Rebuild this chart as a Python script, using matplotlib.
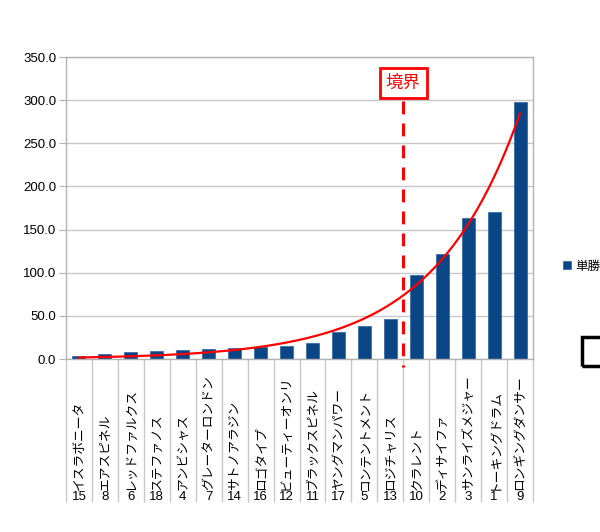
import numpy as np
import matplotlib.pyplot as plt
from matplotlib.patches import Rectangle

# horse names (sorted by win odds) and their numbers
names = ['イスラボニータ', 'エアスピネル', 'レッドファルクス', 'ステファノス', 'アンビシャス',
         'グレーターロンドン', 'サトノアラジン', 'ロゴタイプ', 'ビューティーオンリ', 'ブラックスピネル',
         'ヤングマンパワー', 'コンテントメント', 'ロジチャリス', 'クラレント', 'ディサイファ',
         'サンライズメジャー', 'トーキングドラム', 'ロンギングダンサー']
numbers = ['15', '8', '6', '18', '4', '7', '14', '16', '12', '11', '17', '5', '13', '10', '2', '3', '1', '9']
odds = [4.0, 6.0, 8.0, 9.5, 10.0, 11.2, 12.3, 14.3, 15.0, 18.5, 31.0, 38.0, 46.5, 97.3, 121.2, 163.7, 170.3, 298.0]
series_name = '単勝'
boundary_label = '境界'
boundary_pos = 12.5

jp = ['Noto Sans CJK JP', 'DejaVu Sans']
plt.rcParams['font.family'] = ['Liberation Sans', 'DejaVu Sans']

fig = plt.figure(figsize=(6, 5.32), dpi=100)
ax = fig.add_axes([66/600, 1-359/532, 467/600, 302/532])

x = np.arange(len(odds))
ax.bar(x, odds, 0.5, color='#0a4586', edgecolor='#2a62a0', linewidth=0.5,
       label=series_name, zorder=2)

# trend curve (exponential fit, weighted towards the large odds)
b = np.polyfit(x, np.log(odds), 1, w=np.array(odds))
xs = np.linspace(0, len(odds) - 1, 300)
ax.plot(xs, np.exp(np.polyval(b, xs)), color='#ff0000', lw=1.6, zorder=3)

ax.set_xlim(-0.5, len(odds) - 0.5)
ax.set_ylim(0, 350)
ax.set_yticks(np.arange(0, 351, 50))
ax.set_yticklabels([f'{v:.1f}' for v in np.arange(0, 351, 50)], fontsize=9.5)
ax.yaxis.grid(True, color='#c8c8c8', lw=1)
ax.set_axisbelow(True)
ax.tick_params(axis='y', length=5, color='#b3b3b3', pad=2)
for s in ax.spines.values():
    s.set_color('#b3b3b3')
    s.set_linewidth(1)

# category separators extending through the label area
ax.set_xticks(np.arange(-0.5, len(odds), 1))
ax.set_xticklabels([])
ax.tick_params(axis='x', length=103, color='#c8c8c8', width=1)

for i, (n, num) in enumerate(zip(names, numbers)):
    ax.text(i, -0.433, n, rotation=90, ha='center', va='bottom', fontsize=9.2,
            family=jp, transform=ax.get_xaxis_transform())
    ax.text(i, -0.458, num, ha='center', va='center', fontsize=9.5,
            transform=ax.get_xaxis_transform())

# boundary marker
ax.plot([boundary_pos, boundary_pos], [0.855, -0.027], color='#ff0000', lw=2.2,
        dashes=(4.2, 3.0), transform=ax.get_xaxis_transform(), clip_on=False, zorder=4)
ax.text(boundary_pos, 0.914, boundary_label, ha='center', va='center', fontsize=12.5,
        color='#ff0000', family=jp, transform=ax.get_xaxis_transform(),
        bbox=dict(boxstyle='square,pad=0.35', fc='white', ec='#ff0000', lw=2), zorder=5)

leg = ax.legend(loc='center left', bbox_to_anchor=(558/600, 1-266/532),
                bbox_transform=fig.transFigure, frameon=False, handlelength=0.6,
                handleheight=0.6, handletextpad=0.4, prop={'family': jp, 'size': 9},
                borderaxespad=0)

fig.add_artist(Rectangle((582/600, 1-366/532), 0.06, 29/532, transform=fig.transFigure,
                         fill=False, ec='black', lw=2.5))

fig.savefig('out.png')
